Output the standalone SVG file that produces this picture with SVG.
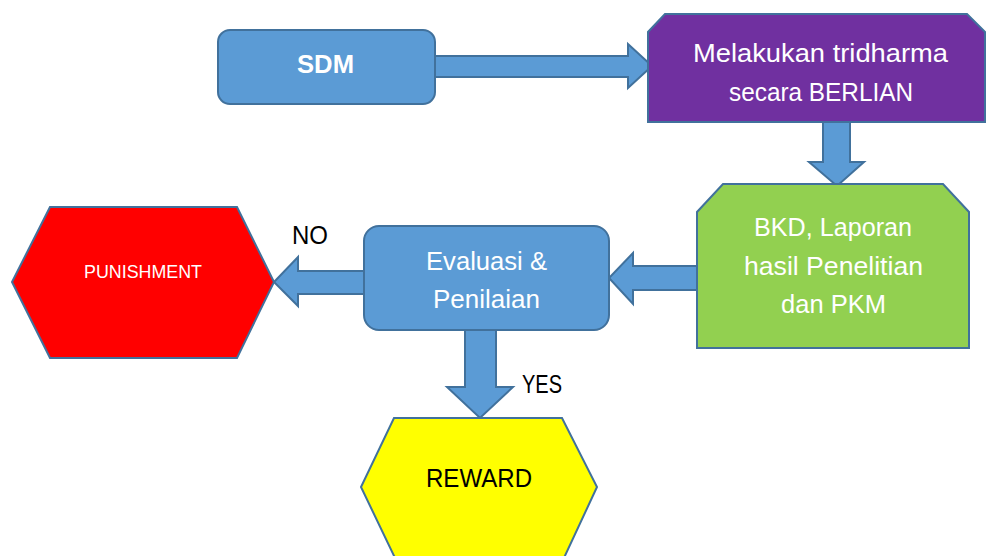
<svg xmlns="http://www.w3.org/2000/svg" width="988" height="556" viewBox="0 0 988 556">
<style>
.arr{fill:#5B9BD5;stroke:#41719C;stroke-width:2;stroke-linejoin:miter}
.nd{stroke:#41719C;stroke-width:2}
text{font-family:"Liberation Sans",Arial,sans-serif;text-anchor:middle}
.w{fill:#FFFFFF}
.b{fill:#000000}
</style>
<rect width="988" height="556" fill="#FFFFFF"/>
<g id="connectors">
<polygon class="arr" points="430,56 628,56 628,44 652,66 628,88 628,77 430,77"/>
<polygon class="arr" points="823,118 850,118 850,162 864,162 837,186 809,162 823,162"/>
<polygon class="arr" points="702,266 633,266 633,253 609,278 633,304 633,290 702,290"/>
<polygon class="arr" points="369,271 298,271 298,257 274,282 298,306 298,294 369,294"/>
<polygon class="arr" points="465,325 496,325 496,387 513,387 480,418 447,387 465,387"/>
</g>
<g id="sdm">
<rect class="nd" x="218" y="30" width="217" height="74" rx="12" fill="#5B9BD5"/>
<text class="w" x="325.5" y="73" font-size="26" font-weight="bold" textLength="57" lengthAdjust="spacingAndGlyphs">SDM</text>
</g>
<g id="tridharma">
<polygon class="nd" points="665,14 967,14 985,32 985,122 648,122 648,32" fill="#7030A0"/>
<text class="w" x="820.5" y="62" font-size="26" textLength="255" lengthAdjust="spacingAndGlyphs">Melakukan tridharma</text>
<text class="w" x="821" y="101" font-size="26" textLength="184" lengthAdjust="spacingAndGlyphs">secara BERLIAN</text>
</g>
<g id="bkd">
<polygon class="nd" points="723,184 943,184 969,212 969,348 697,348 697,212" fill="#92D050"/>
<text class="w" x="833" y="236" font-size="26" textLength="158" lengthAdjust="spacingAndGlyphs">BKD, Laporan</text>
<text class="w" x="833.5" y="275" font-size="26" textLength="179" lengthAdjust="spacingAndGlyphs">hasil Penelitian</text>
<text class="w" x="833.5" y="313" font-size="26" textLength="105" lengthAdjust="spacingAndGlyphs">dan PKM</text>
</g>
<g id="evaluasi">
<rect class="nd" x="364" y="226" width="245" height="104" rx="15" fill="#5B9BD5"/>
<text class="w" x="486.5" y="270" font-size="26" textLength="121" lengthAdjust="spacingAndGlyphs">Evaluasi &amp;</text>
<text class="w" x="486.5" y="308" font-size="26" textLength="107" lengthAdjust="spacingAndGlyphs">Penilaian</text>
</g>
<g id="punishment">
<polygon class="nd" points="50,207 237,207 274,282 237,358 50,358 12,282" fill="#FF0000"/>
<text class="w" x="143" y="278" font-size="18" textLength="118" lengthAdjust="spacingAndGlyphs">PUNISHMENT</text>
</g>
<g id="reward">
<polygon class="nd" points="394,418 562,418 597,487 563,560 396,560 361,487" fill="#FFFF00"/>
<text class="b" x="479" y="487" font-size="25" textLength="106" lengthAdjust="spacingAndGlyphs">REWARD</text>
</g>
<g id="labels">
<text class="b" x="310" y="244" font-size="25" textLength="36" lengthAdjust="spacingAndGlyphs">NO</text>
<text class="b" x="542" y="393" font-size="25" textLength="40" lengthAdjust="spacingAndGlyphs">YES</text>
</g>
</svg>
